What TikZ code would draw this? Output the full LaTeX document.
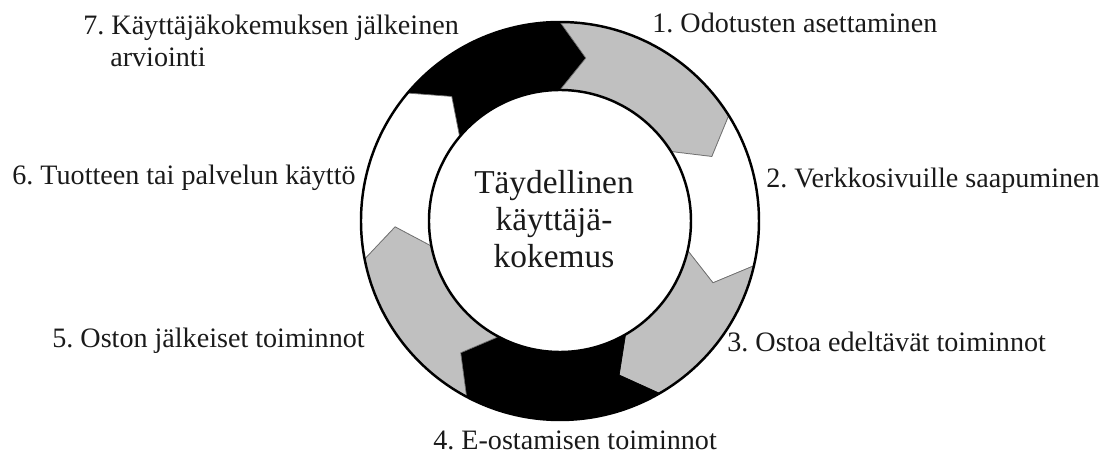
\documentclass[tikz,border=0pt]{standalone}
\usepackage{fontspec}
\setmainfont{Liberation Serif}
\usepackage{tikz}
\usetikzlibrary{calc}
\usepackage{xcolor}
\definecolor{ringgray}{HTML}{C0C0C0}
\definecolor{edgegray}{HTML}{6E6E6E}
\definecolor{labeltext}{HTML}{1A1A1A}
\frenchspacing

% ring geometry (picture units)
\newcommand{\ringouter}{199}
\newcommand{\ringinner}{131}
\newcommand{\ringmid}{165}
\newcommand{\tipangle}{9}

% one chevron-shaped arrow of the ring, from angle #1 clockwise to angle #2
\newcommand{\ringarrow}[3]{%
  \filldraw[#3] (#1:\ringouter) arc[start angle=#1, end angle=#2, radius=\ringouter]
    -- ({#2-\tipangle}:\ringmid) -- (#2:\ringinner)
    arc[start angle=#2, end angle=#1, radius=\ringinner]
    -- ({#1-\tipangle}:\ringmid) -- cycle;}

\begin{document}
\begin{tikzpicture}[
  x=0.02cm, y=0.02cm,
  every node/.style={font=\fontsize{16}{18}\selectfont, text=labeltext},
  steplabel/.style={anchor=base west, inner sep=0pt},
  centertext/.style={align=center, inner sep=0pt, font=\fontsize{19}{21}\selectfont},
  darkarrow/.style={fill=black, draw=black, line width=0.4pt},
  greyarrow/.style={fill=ringgray, draw=edgegray, line width=0.4pt},
  whitearrow/.style={fill=white, draw=edgegray, line width=0.4pt},
  ringline/.style={draw=black, line width=1.4pt},
]
  \useasboundingbox (-560,-235) rectangle (547,221);

  % the seven phases round the ring
  \foreach \a/\b/\s in {140/90/darkarrow, 90/32/greyarrow, 32/-13/whitearrow,
                        -13/-60/greyarrow, -60/-118/darkarrow,
                        -118/-169/greyarrow, -169/-220/whitearrow}
    \ringarrow{\a}{\b}{\s};

  \draw[ringline] (0,0) circle[radius=\ringouter];
  \draw[ringline] (0,0) circle[radius=\ringinner];

  \node[centertext] (core) at (-6,2) {Täydellinen\\käyttäjä-\\kokemus};

  \node[steplabel] (s1) at (92,188) {1. Odotusten asettaminen};
  \node[steplabel] (s2) at (206,33) {2. Verkkosivuille saapuminen};
  \node[steplabel] (s3) at (167,-131) {3. Ostoa edeltävät toiminnot};
  \node[steplabel] (s4) at (-127,-229) {4. E-ostamisen toiminnot};
  \node[steplabel] (s5) at (-508,-127) {5. Oston jälkeiset toiminnot};
  \node[steplabel] (s6) at (-548,36) {6. Tuotteen tai palvelun käyttö};
  \node[anchor=north west, inner sep=0pt, align=left] (s7) at (-477,206)
    {7. Käyttäjäkokemuksen jälkeinen\\\hspace*{0.54cm}arviointi};
\end{tikzpicture}
\end{document}
